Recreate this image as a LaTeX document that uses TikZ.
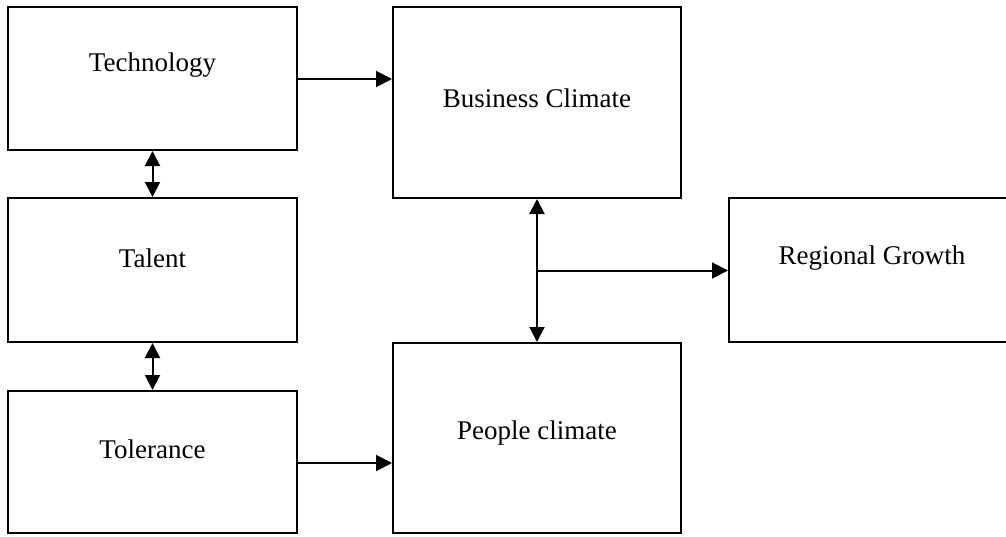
\documentclass[tikz,border=0pt]{standalone}
\usepackage{fontspec}
\setmainfont{Liberation Serif}
\usetikzlibrary{arrows.meta,calc}
\begin{document}
\begin{tikzpicture}[x=1pt,y=-1pt,
  box/.style={draw=black, line width=2pt, rectangle, inner sep=0pt, fill=white},
  lbl/.style={font=\fontsize{27}{30}\selectfont, inner sep=0pt, anchor=center},
  arr/.style={line width=2pt, -{Triangle[length=16pt,width=16pt]}},
  dbl/.style={line width=2pt, {Triangle[length=15pt,width=15pt]}-{Triangle[length=15pt,width=15pt]}}]
\useasboundingbox[fill=white] (0,0) rectangle (1006,536);
% boxes
\node[box, minimum width=289pt, minimum height=143pt] (tech) at (152.5,78.5) {};
\node[box, minimum width=289pt, minimum height=144pt] (tal) at (152.5,270) {};
\node[box, minimum width=289pt, minimum height=142pt] (tol) at (152.5,462) {};
\node[box, minimum width=288pt, minimum height=191pt] (bus) at (537,102.5) {};
\node[box, minimum width=288pt, minimum height=190pt] (peo) at (537,438) {};
\node[box, minimum width=286pt, minimum height=144pt] (reg) at (872,270) {};
% labels
\node[lbl] (ltech) at (152.5,65) {Technology};
\node[lbl] (ltal) at (152.5,258) {Talent};
\node[lbl] (ltol) at (152.5,449) {Tolerance};
\node[lbl] (lbus) at (537,98) {Business Climate};
\node[lbl] (lpeo) at (537,433) {People climate};
\node[lbl] (lreg) at (872,258) {Regional Growth};
% connectors
\draw[arr] (tech.east |- 0,79) -- (bus.west |- 0,79);
\draw[arr] (tol.east |- 0,463) -- (peo.west |- 0,463);
\draw[dbl] (tech.south) -- (tal.north);
\draw[dbl] (tal.south) -- (tol.north);
\draw[dbl] (bus.south) -- (peo.north);
\coordinate (mid) at ($(bus.south)!0.5!(peo.north)$);
\draw[arr] (mid) -- (reg.west |- mid);
\end{tikzpicture}
\end{document}
